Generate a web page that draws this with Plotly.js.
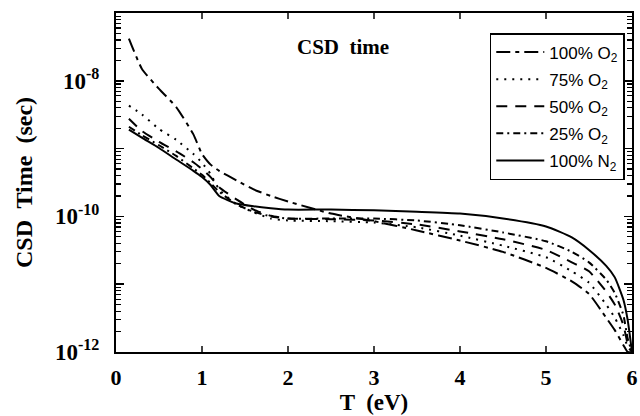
<!DOCTYPE html>
<html>
<head>
<meta charset="utf-8">
<script src="https://cdn.plot.ly/plotly-3.0.1.min.js"></script>
<style>html,body{margin:0;padding:0;background:#fff;}#chart{width:640px;height:416px;}</style>
</head>
<body>
<div id="chart"></div>
<script>
// Temperature grid (eV)
const T = [0.15,0.3,0.5,0.7,0.9,1.0,1.1,1.2,1.4,1.6,1.8,2.0,2.5,3.0,3.5,4.0,4.5,5.0,5.3,5.5,5.7,5.8,5.9,5.95,6.0];

// CSD time (sec) for each gas mixture
const o2_100 = [4.2e-8,1.51e-8,7.6e-9,4.1e-9,1.62e-9,8.3e-10,5.8e-10,4.7e-10,3.4e-10,2.5e-10,2.0e-10,1.66e-10,1.10e-10,8.5e-11,6.2e-11,4.4e-11,3.0e-11,1.74e-11,1.10e-11,7.2e-12,3.2e-12,2.1e-12,1.26e-12,1.0e-12,1.0e-12];
const o2_75  = [4.3e-9,3.2e-9,1.95e-9,1.35e-9,8.3e-10,6.2e-10,4.2e-10,2.5e-10,1.51e-10,1.15e-10,9.3e-11,8.7e-11,8.5e-11,8.1e-11,6.9e-11,5.2e-11,3.7e-11,2.5e-11,1.55e-11,1.05e-11,5.0e-12,3.2e-12,1.78e-12,1.2e-12,1.0e-12];
const o2_50  = [2.75e-9,1.82e-9,1.26e-9,9.1e-10,6.3e-10,5.0e-10,3.8e-10,2.7e-10,1.78e-10,1.26e-10,1.02e-10,9.3e-11,9.1e-11,8.7e-11,7.6e-11,6.0e-11,4.6e-11,3.2e-11,2.1e-11,1.55e-11,7.8e-12,5.0e-12,2.5e-12,1.32e-12,1.0e-12];
const o2_25  = [2.1e-9,1.58e-9,1.12e-9,7.8e-10,5.1e-10,4.1e-10,3.1e-10,2.3e-10,1.51e-10,1.17e-10,1.0e-10,9.3e-11,9.3e-11,9.3e-11,8.7e-11,7.4e-11,5.8e-11,4.3e-11,3.0e-11,2.1e-11,1.17e-11,7.4e-12,3.5e-12,1.58e-12,1.0e-12];
const n2_100 = [1.91e-9,1.45e-9,1.02e-9,6.9e-10,4.7e-10,3.8e-10,2.9e-10,2.0e-10,1.55e-10,1.41e-10,1.32e-10,1.26e-10,1.26e-10,1.23e-10,1.17e-10,1.10e-10,9.3e-11,7.1e-11,4.9e-11,3.2e-11,1.86e-11,1.26e-11,5.9e-12,2.95e-12,1.0e-12];

const seriesNames = ["100% O<sub>2</sub>","75% O<sub>2</sub>","50% O<sub>2</sub>","25% O<sub>2</sub>","100% N<sub>2</sub>"];
const seriesData = [o2_100,o2_75,o2_50,o2_25,n2_100];
const dashes = ["14px,5px,4px,5px","2px,6px","11px,8px","7px,4px,2px,4px","solid"];

// decade (major) tick positions and labels
const yDecades = [1e-12,1e-11,1e-10,1e-9,1e-8,1e-7];
const yDecadeText = ["10<sup>-12</sup>","","10<sup>-10</sup>","","10<sup>-8</sup>",""];
// in-between (minor) tick positions
const yMinor = [2e-12,3e-12,4e-12,5e-12,6e-12,7e-12,8e-12,9e-12,
  2e-11,3e-11,4e-11,5e-11,6e-11,7e-11,8e-11,9e-11,
  2e-10,3e-10,4e-10,5e-10,6e-10,7e-10,8e-10,9e-10,
  2e-9,3e-9,4e-9,5e-9,6e-9,7e-9,8e-9,9e-9,
  2e-8,3e-8,4e-8,5e-8,6e-8,7e-8,8e-8,9e-8];
const xTickVals = [0,1,2,3,4,5,6];

const traces = seriesData.map((y,i)=>({
  x: T, y: y, type:'scatter', mode:'lines', name: seriesNames[i],
  legendgroup: 'g'+i,
  line:{color:'#000', width:2, dash:dashes[i], shape:'spline', smoothing:0.5}
}));

const serif = "Liberation Serif, Times New Roman, serif";
const layout = {
  width:640, height:416,
  margin:{l:116, r:8, t:13, b:64},
  paper_bgcolor:'#fff', plot_bgcolor:'#fff',
  showlegend:true,
  legend:{x:0.986, xanchor:'right', y:0.941, yanchor:'top',
    bordercolor:'#000', borderwidth:1.5, bgcolor:'#fff',
    font:{family:"Liberation Sans, Arial, sans-serif", size:17, color:'#000'},
    tracegroupgap:2, itemwidth:48},
  xaxis:{range:[0,6], tickvals:xTickVals, ticks:'inside', ticklen:6, tickwidth:1.5,
    showline:true, linewidth:2, linecolor:'#000', mirror:'ticks', showgrid:false, zeroline:false,
    ticklabelstandoff:5,
    tickfont:{family:serif, size:22, color:'#000', weight:'bold'},
    title:{text:'T  (eV)', font:{family:serif, size:23, color:'#000', weight:'bold'}, standoff:4}},
  yaxis:{type:'log', range:[-12,-7], tickmode:'array', tickvals:yDecades, ticktext:yDecadeText,
    ticks:'inside', ticklen:8, tickwidth:1.5, tickcolor:'#000',
    minor:{tickvals:yMinor, ticks:'inside', ticklen:5, tickwidth:1.2, tickcolor:'#000', showgrid:false},
    showline:true, linewidth:2, linecolor:'#000', mirror:'allticks', showgrid:false, zeroline:false,
    ticklabelstandoff:10,
    tickfont:{family:serif, size:23, color:'#000', weight:'bold'},
    title:{text:'CSD  Time  (sec)', font:{family:serif, size:24, color:'#000', weight:'bold'}, standoff:16}},
  annotations:[{text:'CSD  time', xref:'paper', yref:'paper', x:0.44, y:0.9, xanchor:'center', yanchor:'middle',
    showarrow:false, font:{family:serif, size:21, color:'#000', weight:'bold'}}]
};

Plotly.newPlot('chart', traces, layout, {staticPlot:true, displayModeBar:false});
</script>
</body>
</html>
